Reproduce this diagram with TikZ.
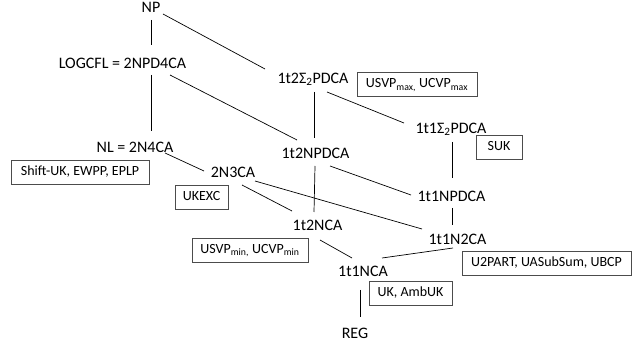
\documentclass[tikz,border=0pt]{standalone}
\usepackage{fontspec}
\setmainfont{Carlito}
\begin{document}
\begin{tikzpicture}[x=1pt,y=-1pt,
  cls/.style={inner sep=0pt,text height=10.5pt,text depth=0pt,font=\fontsize{16}{19}\selectfont},
  prob/.style={draw=black!70,line width=0.8pt,inner xsep=0pt,inner ysep=0pt,minimum height=24pt,
    text height=10pt,text depth=3pt,align=center,font=\fontsize{14}{17}\selectfont},
  edge/.style={line width=0.7pt,black}]
\useasboundingbox (0,0) rectangle (632,347);
% classes
\node[cls] (np) at (151,7.5) {NP};
\node[cls] (logcfl) at (122.5,63) {LOGCFL = 2NPD4CA};
\node[cls] (nl) at (135,147) {NL = 2N4CA};
\node[cls] (tnca3) at (233,172) {2N3CA};
\node[cls] (s2) at (313,78) {1t2Σ\textsubscript{2}PDCA};
\node[cls] (s1) at (451,128) {1t1Σ\textsubscript{2}PDCA};
\node[cls] (npd2) at (315.5,153) {1t2NPDCA};
\node[cls] (npd1) at (451.5,196) {1t1NPDCA};
\node[cls] (n2ca) at (457.5,239) {1t1N2CA};
\node[cls] (nca2) at (317.5,225) {1t2NCA};
\node[cls] (nca1) at (363,271) {1t1NCA};
\node[cls] (reg) at (355,333) {REG};
% problem boxes
\node[prob,minimum width=138pt] (bshift) at (80,172.5) {Shift-UK, EWPP, EPLP};
\node[prob,minimum width=53pt] (bukexc) at (201.5,197.5) {UKEXC};
\node[prob,minimum width=116pt] (bmin) at (250,250) {USVP\textsubscript{min,} UCVP\textsubscript{min}};
\node[prob,minimum width=83pt] (buk) at (410.5,293.5) {UK, AmbUK};
\node[prob,minimum width=169pt] (bu2) at (546.5,263.5) {U2PART, UASubSum, UBCP};
\node[prob,minimum width=120pt] (bmax) at (417,84.5) {USVP\textsubscript{max,} UCVP\textsubscript{max}};
\node[prob,minimum width=46pt] (bsuk) at (499,147) {SUK};
% connectors
\draw[edge] ([shift={(0,12.5)}]np.center) -- ([shift={(28.5,-18)}]logcfl.center);
\draw[edge] ([shift={(12,6.5)}]np.center) -- ([shift={(-48,-9)}]s2.center);
\draw[edge] ([shift={(28.5,12)}]logcfl.center) -- ([shift={(16,-16)}]nl.center);
\draw[edge] ([shift={(47.5,12)}]logcfl.center) -- ([shift={(-18.5,-13)}]npd2.center);
\draw[edge] ([shift={(1,14)}]s2.center) -- ([shift={(-1.5,-15)}]npd2.center);
\draw[edge] ([shift={(14,14)}]s2.center) -- ([shift={(-47,-5)}]s1.center);
\draw[edge] ([shift={(30,6)}]nl.center) -- ([shift={(-29,-1)}]tnca3.center);
\draw[edge] ([shift={(1,14)}]s1.center) -- ([shift={(0.5,-18)}]npd1.center);
\draw[edge] ([shift={(14.5,13)}]npd2.center) -- ([shift={(-40.5,-1)}]npd1.center);
\draw[edge] ([shift={(-0.5,13)}]npd2.center) -- ([shift={(-3.5,-13)}]nca2.center);
\draw[edge] ([shift={(22,9)}]tnca3.center) -- ([shift={(-35.5,-10)}]n2ca.center);
\draw[edge] ([shift={(9,13)}]tnca3.center) -- ([shift={(-25.5,-14)}]nca2.center);
\draw[edge] ([shift={(0.5,12)}]npd1.center) -- ([shift={(-5.5,-14)}]n2ca.center);
\draw[edge] ([shift={(2.5,15)}]nca2.center) -- ([shift={(-11,-13)}]nca1.center);
\draw[edge] ([shift={(-4.5,9)}]n2ca.center) -- ([shift={(19,-13)}]nca1.center);
\draw[edge] ([shift={(-3,19)}]nca1.center) -- ([shift={(5,-16)}]reg.center);
\end{tikzpicture}
\end{document}
